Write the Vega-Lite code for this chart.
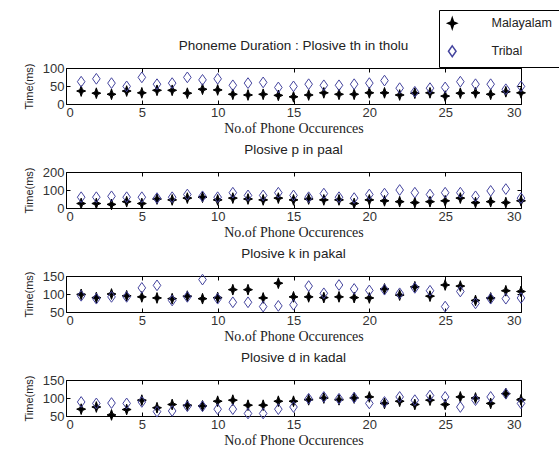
{
  "$schema": "https://vega.github.io/schema/vega-lite/v6.json",
  "background": "white",
  "padding": {"left": 22, "top": 9, "right": 0, "bottom": 2},
  "spacing": 6,
  "datasets": {
    "tholu": [
      {"n":1,"Malayalam":36,"Tribal":62},{"n":2,"Malayalam":30,"Tribal":70},{"n":3,"Malayalam":27,"Tribal":58},{"n":4,"Malayalam":36,"Tribal":49},{"n":5,"Malayalam":31,"Tribal":74},
      {"n":6,"Malayalam":38,"Tribal":55},{"n":7,"Malayalam":38,"Tribal":58},{"n":8,"Malayalam":30,"Tribal":74},{"n":9,"Malayalam":41,"Tribal":67},{"n":10,"Malayalam":39,"Tribal":70},
      {"n":11,"Malayalam":27,"Tribal":52},{"n":12,"Malayalam":25,"Tribal":58},{"n":13,"Malayalam":27,"Tribal":60},{"n":14,"Malayalam":24,"Tribal":46},{"n":15,"Malayalam":20,"Tribal":49},
      {"n":16,"Malayalam":25,"Tribal":55},{"n":17,"Malayalam":31,"Tribal":52},{"n":18,"Malayalam":27,"Tribal":52},{"n":19,"Malayalam":27,"Tribal":55},{"n":20,"Malayalam":31,"Tribal":58},
      {"n":21,"Malayalam":31,"Tribal":65},{"n":22,"Malayalam":25,"Tribal":44},{"n":23,"Malayalam":30,"Tribal":34},{"n":24,"Malayalam":31,"Tribal":44},{"n":25,"Malayalam":22,"Tribal":46},
      {"n":26,"Malayalam":30,"Tribal":62},{"n":27,"Malayalam":31,"Tribal":55},{"n":28,"Malayalam":27,"Tribal":55},{"n":29,"Malayalam":34,"Tribal":41},{"n":30,"Malayalam":31,"Tribal":49}
    ],
    "paal": [
      {"n":1,"Malayalam":25,"Tribal":60},{"n":2,"Malayalam":25,"Tribal":60},{"n":3,"Malayalam":20,"Tribal":65},{"n":4,"Malayalam":35,"Tribal":60},{"n":5,"Malayalam":25,"Tribal":60},
      {"n":6,"Malayalam":50,"Tribal":55},{"n":7,"Malayalam":45,"Tribal":60},{"n":8,"Malayalam":55,"Tribal":75},{"n":9,"Malayalam":60,"Tribal":65},{"n":10,"Malayalam":45,"Tribal":60},
      {"n":11,"Malayalam":55,"Tribal":85},{"n":12,"Malayalam":50,"Tribal":70},{"n":13,"Malayalam":45,"Tribal":70},{"n":14,"Malayalam":55,"Tribal":85},{"n":15,"Malayalam":45,"Tribal":70},
      {"n":16,"Malayalam":50,"Tribal":60},{"n":17,"Malayalam":45,"Tribal":80},{"n":18,"Malayalam":45,"Tribal":60},{"n":19,"Malayalam":25,"Tribal":55},{"n":20,"Malayalam":45,"Tribal":75},
      {"n":21,"Malayalam":40,"Tribal":80},{"n":22,"Malayalam":35,"Tribal":100},{"n":23,"Malayalam":30,"Tribal":85},{"n":24,"Malayalam":35,"Tribal":75},{"n":25,"Malayalam":40,"Tribal":85},
      {"n":26,"Malayalam":55,"Tribal":85},{"n":27,"Malayalam":30,"Tribal":65},{"n":28,"Malayalam":35,"Tribal":95},{"n":29,"Malayalam":30,"Tribal":105},{"n":30,"Malayalam":40,"Tribal":55}
    ],
    "pakal": [
      {"n":1,"Malayalam":99,"Tribal":95},{"n":2,"Malayalam":90,"Tribal":87},{"n":3,"Malayalam":100,"Tribal":92},{"n":4,"Malayalam":95,"Tribal":92},{"n":5,"Malayalam":92,"Tribal":117},
      {"n":6,"Malayalam":89,"Tribal":124},{"n":7,"Malayalam":87,"Tribal":82},{"n":8,"Malayalam":94,"Tribal":92},{"n":9,"Malayalam":87,"Tribal":140},{"n":10,"Malayalam":90,"Tribal":87},
      {"n":11,"Malayalam":112,"Tribal":77},{"n":12,"Malayalam":112,"Tribal":77},{"n":13,"Malayalam":89,"Tribal":65},{"n":14,"Malayalam":130,"Tribal":67},{"n":15,"Malayalam":92,"Tribal":70},
      {"n":16,"Malayalam":92,"Tribal":122},{"n":17,"Malayalam":90,"Tribal":102},{"n":18,"Malayalam":92,"Tribal":125},{"n":19,"Malayalam":90,"Tribal":114},{"n":20,"Malayalam":89,"Tribal":110},
      {"n":21,"Malayalam":114,"Tribal":112},{"n":22,"Malayalam":97,"Tribal":102},{"n":23,"Malayalam":120,"Tribal":117},{"n":24,"Malayalam":94,"Tribal":109},{"n":25,"Malayalam":125,"Tribal":65},
      {"n":26,"Malayalam":122,"Tribal":107},{"n":27,"Malayalam":82,"Tribal":74},{"n":28,"Malayalam":89,"Tribal":87},{"n":29,"Malayalam":109,"Tribal":87},{"n":30,"Malayalam":107,"Tribal":89}
    ],
    "kadal": [
      {"n":1,"Malayalam":69,"Tribal":89},{"n":2,"Malayalam":75,"Tribal":85},{"n":3,"Malayalam":53,"Tribal":86},{"n":4,"Malayalam":68,"Tribal":85},{"n":5,"Malayalam":94,"Tribal":89},
      {"n":6,"Malayalam":73,"Tribal":62},{"n":7,"Malayalam":82,"Tribal":64},{"n":8,"Malayalam":80,"Tribal":77},{"n":9,"Malayalam":78,"Tribal":77},{"n":10,"Malayalam":91,"Tribal":69},
      {"n":11,"Malayalam":94,"Tribal":69},{"n":12,"Malayalam":80,"Tribal":57},{"n":13,"Malayalam":80,"Tribal":57},{"n":14,"Malayalam":91,"Tribal":69},{"n":15,"Malayalam":91,"Tribal":75},
      {"n":16,"Malayalam":95,"Tribal":98},{"n":17,"Malayalam":100,"Tribal":103},{"n":18,"Malayalam":95,"Tribal":98},{"n":19,"Malayalam":100,"Tribal":101},{"n":20,"Malayalam":103,"Tribal":85},
      {"n":21,"Malayalam":85,"Tribal":89},{"n":22,"Malayalam":91,"Tribal":103},{"n":23,"Malayalam":82,"Tribal":94},{"n":24,"Malayalam":94,"Tribal":107},{"n":25,"Malayalam":82,"Tribal":103},
      {"n":26,"Malayalam":103,"Tribal":75},{"n":27,"Malayalam":100,"Tribal":94},{"n":28,"Malayalam":85,"Tribal":103},{"n":29,"Malayalam":112,"Tribal":112},{"n":30,"Malayalam":95,"Tribal":85}
    ]
  },
  "config": {
    "view": {"stroke": "#000", "strokeWidth": 1},
    "font": "Liberation Sans",
    "axis": {
      "grid": false, "domain": false, "tickColor": "#000", "tickSize": 4, "offset": -4,
      "labelFont": "Liberation Sans", "labelFontSize": 13, "labelColor": "#333",
      "titleFontWeight": "normal", "titleColor": "#222"
    },
    "axisX": {"labelPadding": 2, "titleFont": "Liberation Serif", "titleFontSize": 14, "titlePadding": 2},
    "axisY": {"labelPadding": 2, "titleFont": "Liberation Sans", "titleFontSize": 11, "titlePadding": 8},
    "title": {"font": "Liberation Sans", "fontSize": 13.5, "fontWeight": "normal", "color": "#222", "offset": 10},
    "legend": {
      "orient": "none", "legendX": 373, "legendY": -58,
      "strokeColor": "#000", "fillColor": "white", "padding": 7,
      "labelFont": "Liberation Sans", "labelFontSize": 12.5, "labelColor": "#222",
      "labelOffset": 33, "rowPadding": 10, "symbolSize": 80, "title": null
    }
  },
  "vconcat": [
    {
      "title": "Phoneme Duration : Plosive th in tholu",
      "data": {"name": "tholu"},
      "transform": [{"fold": ["Malayalam", "Tribal"], "as": ["lang", "t"]}],
      "width": 455, "height": 36,
      "layer": [
        {
          "mark": {"type": "point", "strokeWidth": 1, "opacity": 1, "size": 80},
          "encoding": {
            "x": {"field": "n", "type": "quantitative", "scale": {"domain": [0, 30], "nice": false}, "axis": {"values": [0,5,10,15,20,25,30], "title": "No.of Phone Occurences"}},
            "y": {"field": "t", "type": "quantitative", "scale": {"domain": [0, 100], "nice": false}, "axis": {"values": [0,50,100], "title": "Time(ms)"}},
            "shape": {"field": "lang", "type": "nominal", "scale": {"domain": ["Malayalam","Tribal"], "range": ["M0,-1.2L0.3,-0.3L1,0L0.3,0.3L0,1.2L-0.3,0.3L-1,0L-0.3,-0.3Z", "M0,-1.2L0.85,0L0,1.2L-0.85,0Z"]}, "legend": {"title": null}},
            "stroke": {"field": "lang", "type": "nominal", "scale": {"domain": ["Malayalam","Tribal"], "range": ["#000000", "#44449e"]}, "legend": {"title": null}},
            "fill": {"field": "lang", "type": "nominal", "scale": {"domain": ["Malayalam","Tribal"], "range": ["#000000", "rgba(255,255,255,0)"]}, "legend": {"title": null}}
          }
        },
        {
          "mark": {"type": "point", "opacity": 0},
          "encoding": {
            "x": {"field": "n", "type": "quantitative", "axis": {"orient": "top", "values": [0,5,10,15,20,25,30], "labels": false, "title": null}},
            "y": {"field": "t", "type": "quantitative", "axis": {"orient": "right", "values": [0,50,100], "labels": false, "title": null}}
          }
        }
      ],
      "resolve": {"axis": {"x": "independent", "y": "independent"}}
    },
    {
      "title": "Plosive p in paal",
      "data": {"name": "paal"},
      "transform": [{"fold": ["Malayalam", "Tribal"], "as": ["lang", "t"]}],
      "width": 455, "height": 36,
      "layer": [
        {
          "mark": {"type": "point", "strokeWidth": 1, "opacity": 1, "size": 80},
          "encoding": {
            "x": {"field": "n", "type": "quantitative", "scale": {"domain": [0, 30], "nice": false}, "axis": {"values": [0,5,10,15,20,25,30], "title": "No.of Phone Occurences"}},
            "y": {"field": "t", "type": "quantitative", "scale": {"domain": [0, 200], "nice": false}, "axis": {"values": [0,100,200], "title": "Time(ms)"}},
            "shape": {"field": "lang", "type": "nominal", "legend": {"title": null}},
            "stroke": {"field": "lang", "type": "nominal", "legend": {"title": null}},
            "fill": {"field": "lang", "type": "nominal", "legend": {"title": null}}
          }
        },
        {
          "mark": {"type": "point", "opacity": 0},
          "encoding": {
            "x": {"field": "n", "type": "quantitative", "axis": {"orient": "top", "values": [0,5,10,15,20,25,30], "labels": false, "title": null}},
            "y": {"field": "t", "type": "quantitative", "axis": {"orient": "right", "values": [0,100,200], "labels": false, "title": null}}
          }
        }
      ],
      "resolve": {"axis": {"x": "independent", "y": "independent"}}
    },
    {
      "title": "Plosive k in pakal",
      "data": {"name": "pakal"},
      "transform": [{"fold": ["Malayalam", "Tribal"], "as": ["lang", "t"]}],
      "width": 455, "height": 36,
      "layer": [
        {
          "mark": {"type": "point", "strokeWidth": 1, "opacity": 1, "size": 80},
          "encoding": {
            "x": {"field": "n", "type": "quantitative", "scale": {"domain": [0, 30], "nice": false}, "axis": {"values": [0,5,10,15,20,25,30], "title": "No.of Phone Occurences"}},
            "y": {"field": "t", "type": "quantitative", "scale": {"domain": [50, 150], "nice": false, "zero": false}, "axis": {"values": [50,100,150], "title": "Time(ms)"}},
            "shape": {"field": "lang", "type": "nominal", "legend": {"title": null}},
            "stroke": {"field": "lang", "type": "nominal", "legend": {"title": null}},
            "fill": {"field": "lang", "type": "nominal", "legend": {"title": null}}
          }
        },
        {
          "mark": {"type": "point", "opacity": 0},
          "encoding": {
            "x": {"field": "n", "type": "quantitative", "axis": {"orient": "top", "values": [0,5,10,15,20,25,30], "labels": false, "title": null}},
            "y": {"field": "t", "type": "quantitative", "axis": {"orient": "right", "values": [50,100,150], "labels": false, "title": null}}
          }
        }
      ],
      "resolve": {"axis": {"x": "independent", "y": "independent"}}
    },
    {
      "title": "Plosive d in kadal",
      "data": {"name": "kadal"},
      "transform": [{"fold": ["Malayalam", "Tribal"], "as": ["lang", "t"]}],
      "width": 455, "height": 36,
      "layer": [
        {
          "mark": {"type": "point", "strokeWidth": 1, "opacity": 1, "size": 80},
          "encoding": {
            "x": {"field": "n", "type": "quantitative", "scale": {"domain": [0, 30], "nice": false}, "axis": {"values": [0,5,10,15,20,25,30], "title": "No.of Phone Occurences"}},
            "y": {"field": "t", "type": "quantitative", "scale": {"domain": [50, 150], "nice": false, "zero": false}, "axis": {"values": [50,100,150], "title": "Time(ms)"}},
            "shape": {"field": "lang", "type": "nominal", "legend": {"title": null}},
            "stroke": {"field": "lang", "type": "nominal", "legend": {"title": null}},
            "fill": {"field": "lang", "type": "nominal", "legend": {"title": null}}
          }
        },
        {
          "mark": {"type": "point", "opacity": 0},
          "encoding": {
            "x": {"field": "n", "type": "quantitative", "axis": {"orient": "top", "values": [0,5,10,15,20,25,30], "labels": false, "title": null}},
            "y": {"field": "t", "type": "quantitative", "axis": {"orient": "right", "values": [50,100,150], "labels": false, "title": null}}
          }
        }
      ],
      "resolve": {"axis": {"x": "independent", "y": "independent"}}
    }
  ],
  "resolve": {"scale": {"x": "independent", "y": "independent"}}
}
